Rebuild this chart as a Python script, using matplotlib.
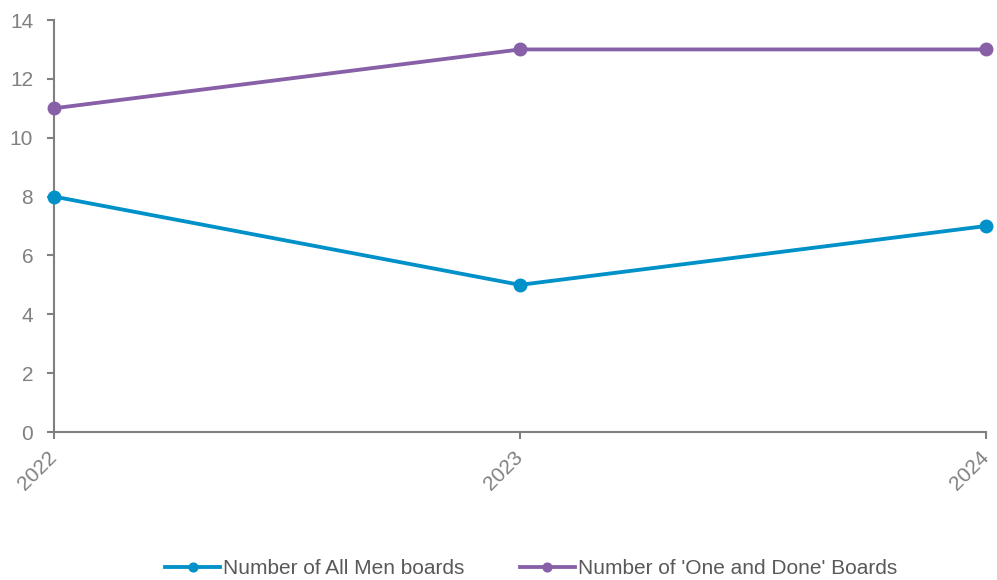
import matplotlib
matplotlib.use("Agg")
import matplotlib.pyplot as plt

years = ["2022", "2023", "2024"]
all_men = [8, 5, 7]
one_and_done = [11, 13, 13]

plt.rcParams['font.family'] = ['Liberation Sans', 'DejaVu Sans']
gray = "#808080"
blue = "#0091C9"
purple = "#8760A8"

fig = plt.figure(figsize=(9.97, 5.80), dpi=100)
ax = fig.add_axes([54/997, 1-432/580, (986-54)/997, (432-20)/580])
x = list(range(len(years)))
ax.plot(x, all_men, color=blue, lw=2.75, marker="o", ms=9, label="Number of All Men boards", clip_on=False, zorder=3)
ax.plot(x, one_and_done, color=purple, lw=2.75, marker="o", ms=9, label="Number of 'One and Done' Boards", clip_on=False, zorder=3)

ax.set_xlim(0, len(years)-1)
ax.set_ylim(0, 14)
ax.set_yticks(range(0, 15, 2))
ax.set_xticks(x)
ax.set_xticklabels(years, rotation=45, ha="right", va="center", rotation_mode="anchor")
for s in ["top", "right"]:
    ax.spines[s].set_visible(False)
for s in ["left", "bottom"]:
    ax.spines[s].set_color(gray)
    ax.spines[s].set_linewidth(1.5)
ax.tick_params(colors=gray, labelsize=15, length=5, width=1.5, direction="out")
ax.tick_params(axis="y", pad=10)
ax.tick_params(axis="x", pad=11)

leg = fig.legend(loc="center", bbox_to_anchor=(531/997, 1-569/580), ncol=2, frameon=False,
                 fontsize=15, handlelength=2.64, handletextpad=0.15, columnspacing=2.64,
                 markerscale=0.7)
for t in leg.get_texts():
    t.set_color("#595959")

fig.savefig("out.png", dpi=100)
